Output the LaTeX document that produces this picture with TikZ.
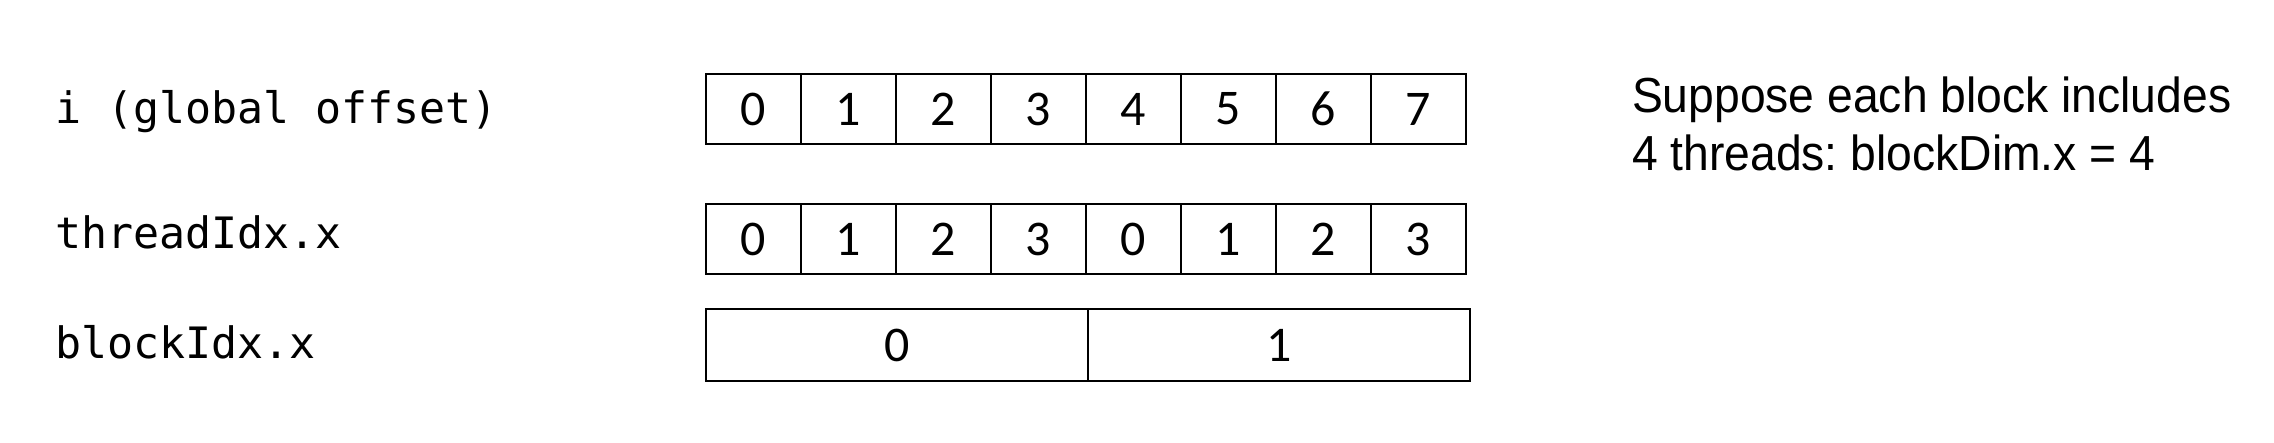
\documentclass[tikz,border=0pt]{standalone}
\usepackage{fontspec}
\newfontfamily\codefont{DejaVu Sans Mono}
\newfontfamily\cellfont{Carlito}
\newfontfamily\notefont[FakeStretch=0.94]{Liberation Sans}
\frenchspacing
\begin{document}
\begin{tikzpicture}[x=0.01cm,y=-0.01cm,inner sep=0pt,outer sep=0pt,line width=0.55pt,
cell/.style={draw,rectangle,minimum width=0.95cm,minimum height=0.7cm,font=\cellfont\fontsize{14.2pt}{17pt}\selectfont},
blk/.style={cell,minimum width=3.82cm,minimum height=0.72cm},
lbl/.style={anchor=base west,font=\codefont\fontsize{12.3pt}{15pt}\selectfont},
note/.style={anchor=base west,font=\notefont\fontsize{14pt}{17pt}\selectfont}]
\useasboundingbox (0,0) rectangle (2274,442);
% row labels
\draw (55,123) node[lbl] (lblI) {i (global offset)};
\draw (55,248) node[lbl] (lblT) {threadIdx.x};
\draw (55,358) node[lbl] (lblB) {blockIdx.x};
% global offset
\draw (753.5,109) node[cell] (i0) {0};
\draw (848.5,109) node[cell] (i1) {1};
\draw (943.5,109) node[cell] (i2) {2};
\draw (1038.5,109) node[cell] (i3) {3};
\draw (1133.5,109) node[cell] (i4) {4};
\draw (1228.5,109) node[cell] (i5) {5};
\draw (1323.5,109) node[cell] (i6) {6};
\draw (1418.5,109) node[cell] (i7) {7};
% thread index
\draw (753.5,239) node[cell] (t0) {0};
\draw (848.5,239) node[cell] (t1) {1};
\draw (943.5,239) node[cell] (t2) {2};
\draw (1038.5,239) node[cell] (t3) {3};
\draw (1133.5,239) node[cell] (t4) {0};
\draw (1228.5,239) node[cell] (t5) {1};
\draw (1323.5,239) node[cell] (t6) {2};
\draw (1418.5,239) node[cell] (t7) {3};
% block index
\draw (897,345) node[blk] (b0) {0};
\draw (1279,345) node[blk] (b1) {1};
% note
\draw (1632,112.5) node[note] (note1) {Suppose each block includes};
\draw (1632,170) node[note] (note2) {4 threads: blockDim.x = 4};
\end{tikzpicture}
\end{document}
